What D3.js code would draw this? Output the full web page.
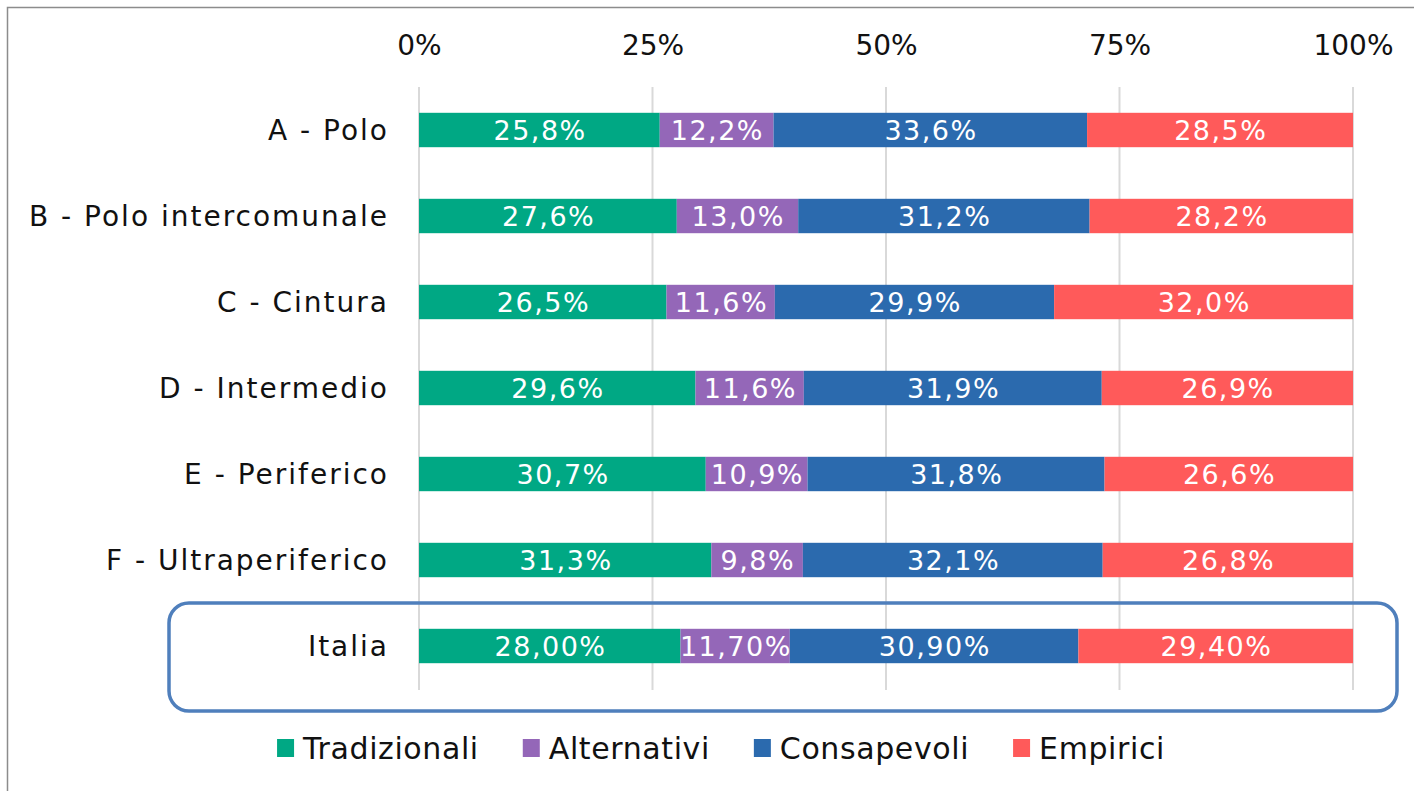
<!DOCTYPE html>
<html>
<head>
<meta charset="utf-8">
<script src="https://cdn.jsdelivr.net/npm/d3@7"></script>
<style>
  html, body { margin: 0; padding: 0; background: #fff; }
  svg { display: block; font-family: "DejaVu Sans", sans-serif; }
</style>
</head>
<body>
<svg id="chart" width="1414" height="791"></svg>
<script>
// Territorial areas (rows) and the consumer profiles (stacked segments)
const categories = ["A - Polo", "B - Polo intercomunale", "C - Cintura", "D - Intermedio",
                    "E - Periferico", "F - Ultraperiferico", "Italia"];
const seriesNames = ["Tradizionali", "Alternativi", "Consapevoli", "Empirici"];
const tradizionali = [25.8, 27.6, 26.5, 29.6, 30.7, 31.3, 28.00];
const alternativi  = [12.2, 13.0, 11.6, 11.6, 10.9, 9.8, 11.70];
const consapevoli  = [33.6, 31.2, 29.9, 31.9, 31.8, 32.1, 30.90];
const empirici     = [28.5, 28.2, 32.0, 26.9, 26.6, 26.8, 29.40];
const labelDecimals = [1, 1, 1, 1, 1, 1, 2];
const tickValues = [0, 0.25, 0.5, 0.75, 1];
const colors = ["#00a884", "#9467b8", "#2b6aae", "#ff5a5a"];

const rows = categories.map((c, i) => ({
  cat: c, dec: labelDecimals[i],
  Tradizionali: tradizionali[i], Alternativi: alternativi[i],
  Consapevoli: consapevoli[i], Empirici: empirici[i]
}));

const svg = d3.select("#chart");

// frame: only top and left edges fall inside the canvas
svg.append("path").attr("d", "M7.5,791 V7.5 H1414")
  .attr("fill", "none").attr("stroke", "#8c8c8c").attr("stroke-width", 1.5);

const x = d3.scaleLinear().domain([0, 1]).range([419, 1353]);
const y = d3.scaleBand().domain(categories).range([87, 689]).paddingInner(0.6).paddingOuter(0.3);
const color = d3.scaleOrdinal().domain(seriesNames).range(colors);

// vertical gridlines
svg.append("g").selectAll("line").data(tickValues).join("line")
  .attr("x1", d => x(d)).attr("x2", d => x(d))
  .attr("y1", 87).attr("y2", 690)
  .attr("stroke", "#d9d9d9").attr("stroke-width", 2);

// top axis labels
const fmtTick = d3.format(".0%");
const axis = svg.append("g").attr("transform", "translate(0,55)")
  .call(d3.axisTop(x).tickValues(tickValues).tickFormat(fmtTick).tickSize(0).tickPadding(0));
axis.select(".domain").remove();
axis.selectAll("text").attr("font-size", 28).attr("fill", "#111")
  .attr("font-family", "DejaVu Sans, sans-serif").attr("dy", 0);

// category labels
const yAxis = svg.append("g").attr("transform", "translate(389,0)")
  .call(d3.axisLeft(y).tickSize(0).tickPadding(0));
yAxis.select(".domain").remove();
yAxis.selectAll("text").attr("font-size", 28).attr("fill", "#111")
  .attr("letter-spacing", 2)
  .attr("font-family", "DejaVu Sans, sans-serif").attr("dy", "0.36em");

// stacked bars normalised to 100%
const stack = d3.stack().keys(seriesNames).offset(d3.stackOffsetExpand);
const layers = stack(rows);

const layerG = svg.append("g").selectAll("g").data(layers).join("g")
  .attr("fill", d => color(d.key));
layerG.selectAll("rect").data(d => d).join("rect")
  .attr("x", d => x(d[0])).attr("width", d => x(d[1]) - x(d[0]))
  .attr("y", d => y(d.data.cat)).attr("height", y.bandwidth());

// value labels
const labelG = svg.append("g");
layers.forEach(layer => {
  labelG.selectAll(null).data(layer).join("text")
    .attr("x", d => (x(d[0]) + x(d[1])) / 2 + 0.75)
    .attr("y", d => y(d.data.cat) + y.bandwidth() / 2)
    .attr("dy", "0.36em")
    .attr("text-anchor", "middle")
    .attr("font-size", 27).attr("letter-spacing", 1.5).attr("fill", "#fff")
    .text(d => d.data[layer.key].toFixed(d.data.dec).replace(".", ",") + "%");
});

// highlight around the national row
svg.append("rect").attr("x", 169).attr("y", 603).attr("width", 1228).attr("height", 108)
  .attr("rx", 20).attr("ry", 20)
  .attr("fill", "none").attr("stroke", "#4f7fbc").attr("stroke-width", 3.5);

// legend
const legend = svg.append("g").attr("transform", "translate(0,748)");
const items = legend.selectAll("g").data(seriesNames).join("g");
items.append("rect").attr("x", 0).attr("y", -9).attr("width", 17).attr("height", 18)
  .attr("fill", d => color(d));
items.append("text").attr("x", 26).attr("dy", "0.36em").attr("font-size", 30)
  .attr("letter-spacing", 0.6).attr("fill", "#111").text(d => d);
const gap = 44;
const widths = [];
items.each(function () { widths.push(this.getBBox().width); });
const total = d3.sum(widths) + gap * (widths.length - 1);
let cx = 721 - total / 2;
items.attr("transform", (d, i) => {
  const t = `translate(${cx},0)`;
  cx += widths[i] + gap;
  return t;
});
</script>
</body>
</html>
